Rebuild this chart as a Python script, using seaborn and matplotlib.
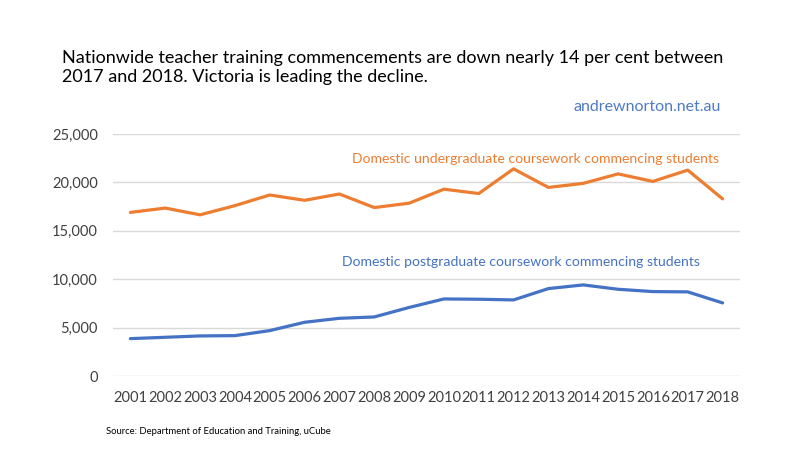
import matplotlib
matplotlib.use('Agg')
import matplotlib.pyplot as plt
import pandas as pd
import seaborn as sns

years = [str(y) for y in range(2001, 2019)]
undergrad = [16900, 17350, 16650, 17600, 18700, 18150, 18800, 17400, 17850,
             19300, 18850, 21400, 19480, 19900, 20880, 20100, 21270, 18300]
postgrad = [3860, 4000, 4140, 4170, 4690, 5550, 5960, 6100, 7080,
            7960, 7930, 7860, 9030, 9410, 8960, 8720, 8690, 7550]
series_names = ['Domestic undergraduate coursework commencing students',
                'Domestic postgraduate coursework commencing students']
y_ticks = [0, 5000, 10000, 15000, 20000, 25000]

ORANGE = '#ED7D31'
BLUE = '#4472C4'


def plot_commencements():
    sns.set_theme(style='white')
    plt.rcParams['font.family'] = ['Lato', 'DejaVu Sans']

    df = pd.DataFrame({
        'year': years * 2,
        'students': undergrad + postgrad,
        'series': [series_names[0]] * len(years) + [series_names[1]] * len(years),
    })

    fig = plt.figure(figsize=(8.09, 4.55), dpi=100)
    ax = fig.add_axes([113 / 809, 1 - 376 / 455, (740 - 113) / 809, (376 - 134) / 455])
    sns.lineplot(data=df, x='year', y='students', hue='series',
                 palette=[ORANGE, BLUE], lw=2.3, legend=False, ax=ax, sort=False)

    ax.set_ylim(0, 25000)
    ax.set_xlim(-0.5, len(years) - 0.5)
    ax.set_yticks(y_ticks)
    ax.set_yticklabels([f'{v:,}' for v in y_ticks])
    ax.grid(axis='y', color='#D9D9D9', lw=1)
    ax.set_axisbelow(True)
    sns.despine(ax=ax, left=True, bottom=True)
    ax.tick_params(axis='both', length=0, labelsize=10.5, colors='#404040')
    ax.tick_params(axis='x', pad=11)
    ax.tick_params(axis='y', pad=11)
    ax.set_xlabel('')
    ax.set_ylabel('')

    ax.text(719 / 809, 1 - 159 / 455, series_names[0], transform=fig.transFigure,
            color=ORANGE, fontsize=10.1, ha='right', va='center')
    ax.text(700 / 809, 1 - 262 / 455, series_names[1], transform=fig.transFigure,
            color=BLUE, fontsize=10.1, ha='right', va='center')

    fig.text(62 / 809, 1 - 67.5 / 455,
             'Nationwide teacher training commencements are down nearly 14 per cent between\n'
             '2017 and 2018. Victoria is leading the decline.',
             fontsize=13.0, color='black', ha='left', va='center', linespacing=1.2)
    fig.text(721 / 809, 1 - 107 / 455, 'andrewnorton.net.au', color='#4E7AC7',
             fontsize=11.5, ha='right', va='center')
    fig.text(106 / 809, 1 - 431 / 455, 'Source: Department of Education and Training, uCube',
             fontsize=6.8, color='black', ha='left', va='center')

    fig.savefig('out.png', dpi=100)


if __name__ == '__main__':
    plot_commencements()
